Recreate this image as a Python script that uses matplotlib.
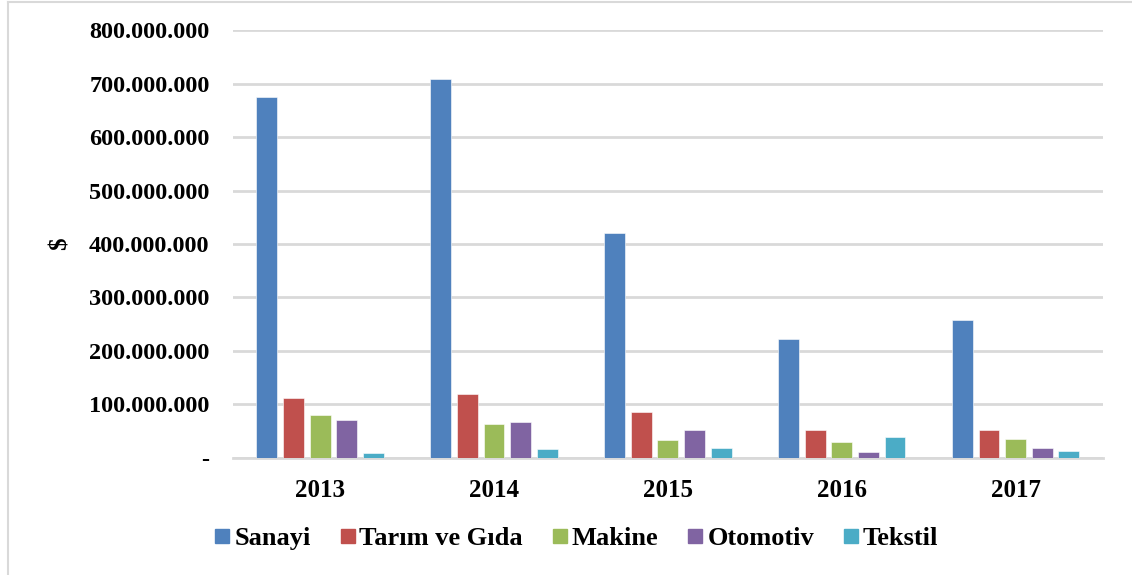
import numpy as np
import matplotlib
matplotlib.use("Agg")
import matplotlib.pyplot as plt
from matplotlib.ticker import FuncFormatter
from matplotlib.lines import Line2D

plt.rcParams['font.family'] = ['Liberation Serif', 'DejaVu Serif']
plt.rcParams['font.weight'] = 'bold'

years = ['2013', '2014', '2015', '2016', '2017']
series = ['Sanayi', 'Tarım ve Gıda', 'Makine', 'Otomotiv', 'Tekstil']
colors = ['#4F81BD', '#C0504D', '#9BBB59', '#8064A2', '#4BACC6']

sanayi = [676e6, 710e6, 421e6, 223e6, 258e6]
tarim = [112e6, 119e6, 86e6, 52e6, 52e6]
makine = [80e6, 64e6, 34e6, 29e6, 35e6]
otomotiv = [71e6, 67e6, 51e6, 11e6, 18e6]
tekstil = [9e6, 16e6, 19e6, 39e6, 12.5e6]
values = [sanayi, tarim, makine, otomotiv, tekstil]

fig = plt.figure(figsize=(11.32, 5.75), dpi=100)
ax = fig.add_axes([0.206, 0.204, 0.768, 0.743])

x = np.arange(len(years))
step = 0.153
width = 0.12
for i, (name, vals) in enumerate(zip(series, values)):
    ax.bar(x + (i - 2) * step, vals, width, color=colors[i], label=name,
           edgecolor='white', linewidth=0.4, zorder=3)

ax.set_xlim(-0.5, len(years) - 0.5)
ax.set_ylim(0, 800e6)
ax.set_yticks(np.arange(0, 800e6 + 1, 100e6))


def fmt(v, pos):
    if v == 0:
        return '-'
    return f'{int(v):,}'.replace(',', '.')


ax.yaxis.set_major_formatter(FuncFormatter(fmt))
ax.set_xticks(x)
ax.set_xticklabels(years)
ax.tick_params(axis='y', length=0, labelsize=17.5, pad=17)
ax.tick_params(axis='x', length=0, labelsize=18, pad=15)
ax.grid(axis='y', color='#d9d9d9', linewidth=2, zorder=0)
for s in ['left', 'right', 'top']:
    ax.spines[s].set_visible(False)
ax.spines['bottom'].set_color('#d9d9d9')
ax.spines['bottom'].set_linewidth(2)

fig.text(0.053, 0.576, '$', rotation=90, fontsize=18, fontweight='bold',
         ha='center', va='center')

handles = [Line2D([], [], marker='s', linestyle='none', markersize=10,
                  markerfacecolor=c, markeredgecolor=c) for c in colors]
fig.legend(handles, series, loc='center', bbox_to_anchor=(0.508, 0.064),
           ncol=5, frameon=False, fontsize=19, handletextpad=0.05,
           columnspacing=1.0, handlelength=0.8)

# light frame on the left and top edges
fig.add_artist(Line2D([0.007, 0.007], [0.0, 0.997], color='#d9d9d9', lw=1.5,
                      transform=fig.transFigure))
fig.add_artist(Line2D([0.007, 1.0], [0.997, 0.997], color='#d9d9d9', lw=1.5,
                      transform=fig.transFigure))

fig.savefig('out.png', dpi=100)
